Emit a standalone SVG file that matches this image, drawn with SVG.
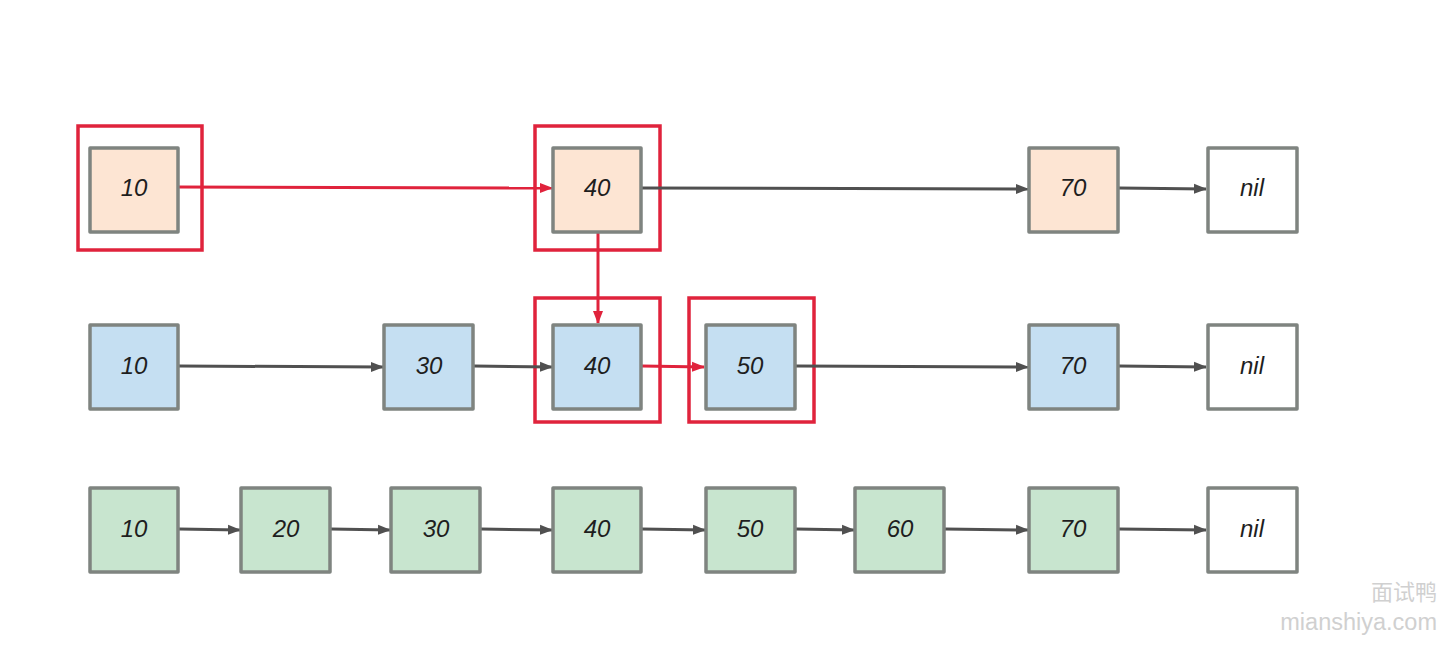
<svg xmlns="http://www.w3.org/2000/svg" width="1448" height="645" viewBox="0 0 1448 645">
<style>
.n{stroke:#7f8480;stroke-width:3.5;stroke-linejoin:round}
.o{fill:#fde5d3}.b{fill:#c5dff2}.g{fill:#c8e5cf}.w{fill:#ffffff}
.t{font-family:"Liberation Sans",sans-serif;font-style:italic;font-size:24px;fill:#1e1e1e;text-anchor:middle;dominant-baseline:central}
.r{fill:none;stroke:#e0233c;stroke-width:3.5}
.a{fill:none;stroke:#505050;stroke-width:3}
.ar{fill:none;stroke:#e0233c;stroke-width:3}
.wm{font-family:"Liberation Sans","Noto Sans CJK SC",sans-serif;fill:#d0d0d0;text-anchor:end}
</style>
<defs>
<marker id="ah" markerWidth="13" markerHeight="12" refX="12" refY="6" orient="auto" markerUnits="userSpaceOnUse"><path d="M0,1 L13,6 L0,11 Z" fill="#505050"/></marker>
<marker id="ahr" markerWidth="13" markerHeight="12" refX="12" refY="6" orient="auto" markerUnits="userSpaceOnUse"><path d="M0,1 L13,6 L0,11 Z" fill="#e0233c"/></marker>
</defs>
<rect width="1448" height="645" fill="#ffffff"/>
<g id="highlights">
<rect class="r" x="78" y="126" width="124" height="124"/>
<rect class="r" x="535" y="126" width="125" height="124"/>
<rect class="r" x="535" y="298" width="125" height="124"/>
<rect class="r" x="689" y="298" width="125" height="124"/>
</g>
<g id="connectors">
<path class="ar" d="M179,187 L552,188" marker-end="url(#ahr)"/>
<path class="a" d="M642,188 L1028,189" marker-end="url(#ah)"/>
<path class="a" d="M1119,188 L1206,189" marker-end="url(#ah)"/>
<path class="ar" d="M598,233 L598,323" marker-end="url(#ahr)"/>
<path class="a" d="M179,366 L383,367" marker-end="url(#ah)"/>
<path class="a" d="M474,366 L552,367" marker-end="url(#ah)"/>
<path class="ar" d="M642,366 L704,367" marker-end="url(#ahr)"/>
<path class="a" d="M796,366 L1028,367" marker-end="url(#ah)"/>
<path class="a" d="M1119,366 L1206,367" marker-end="url(#ah)"/>
<path class="a" d="M179,529 L240,530" marker-end="url(#ah)"/>
<path class="a" d="M331,529 L390,530" marker-end="url(#ah)"/>
<path class="a" d="M481,529 L552,530" marker-end="url(#ah)"/>
<path class="a" d="M642,529 L705,530" marker-end="url(#ah)"/>
<path class="a" d="M796,529 L854,530" marker-end="url(#ah)"/>
<path class="a" d="M945,529 L1028,530" marker-end="url(#ah)"/>
<path class="a" d="M1119,529 L1206,530" marker-end="url(#ah)"/>
</g>
<g id="r1-10"><rect class="n o" x="90" y="148" width="88" height="84"/><text class="t" x="134" y="187">10</text></g>
<g id="r1-40"><rect class="n o" x="553" y="148" width="88" height="84"/><text class="t" x="597" y="187">40</text></g>
<g id="r1-70"><rect class="n o" x="1029" y="148" width="89" height="84"/><text class="t" x="1073" y="187">70</text></g>
<g id="r1-nil"><rect class="n w" x="1208" y="148" width="89" height="84"/><text class="t" x="1252" y="187">nil</text></g>
<g id="r2-10"><rect class="n b" x="90" y="325" width="88" height="84"/><text class="t" x="134" y="365">10</text></g>
<g id="r2-30"><rect class="n b" x="384" y="325" width="89" height="84"/><text class="t" x="429" y="365">30</text></g>
<g id="r2-40"><rect class="n b" x="553" y="325" width="88" height="84"/><text class="t" x="597" y="365">40</text></g>
<g id="r2-50"><rect class="n b" x="706" y="325" width="89" height="84"/><text class="t" x="750" y="365">50</text></g>
<g id="r2-70"><rect class="n b" x="1029" y="325" width="89" height="84"/><text class="t" x="1073" y="365">70</text></g>
<g id="r2-nil"><rect class="n w" x="1208" y="325" width="89" height="84"/><text class="t" x="1252" y="365">nil</text></g>
<g id="r3-10"><rect class="n g" x="90" y="488" width="88" height="84"/><text class="t" x="134" y="528">10</text></g>
<g id="r3-20"><rect class="n g" x="241" y="488" width="89" height="84"/><text class="t" x="286" y="528">20</text></g>
<g id="r3-30"><rect class="n g" x="391" y="488" width="89" height="84"/><text class="t" x="436" y="528">30</text></g>
<g id="r3-40"><rect class="n g" x="553" y="488" width="88" height="84"/><text class="t" x="597" y="528">40</text></g>
<g id="r3-50"><rect class="n g" x="706" y="488" width="89" height="84"/><text class="t" x="750" y="528">50</text></g>
<g id="r3-60"><rect class="n g" x="855" y="488" width="89" height="84"/><text class="t" x="900" y="528">60</text></g>
<g id="r3-70"><rect class="n g" x="1029" y="488" width="89" height="84"/><text class="t" x="1073" y="528">70</text></g>
<g id="r3-nil"><rect class="n w" x="1208" y="488" width="89" height="84"/><text class="t" x="1252" y="528">nil</text></g>
<g id="watermark">
<text class="wm" x="1437" y="600" font-size="22">面试鸭</text>
<text class="wm" x="1437" y="630" font-size="23.5">mianshiya.com</text>
</g>
</svg>
